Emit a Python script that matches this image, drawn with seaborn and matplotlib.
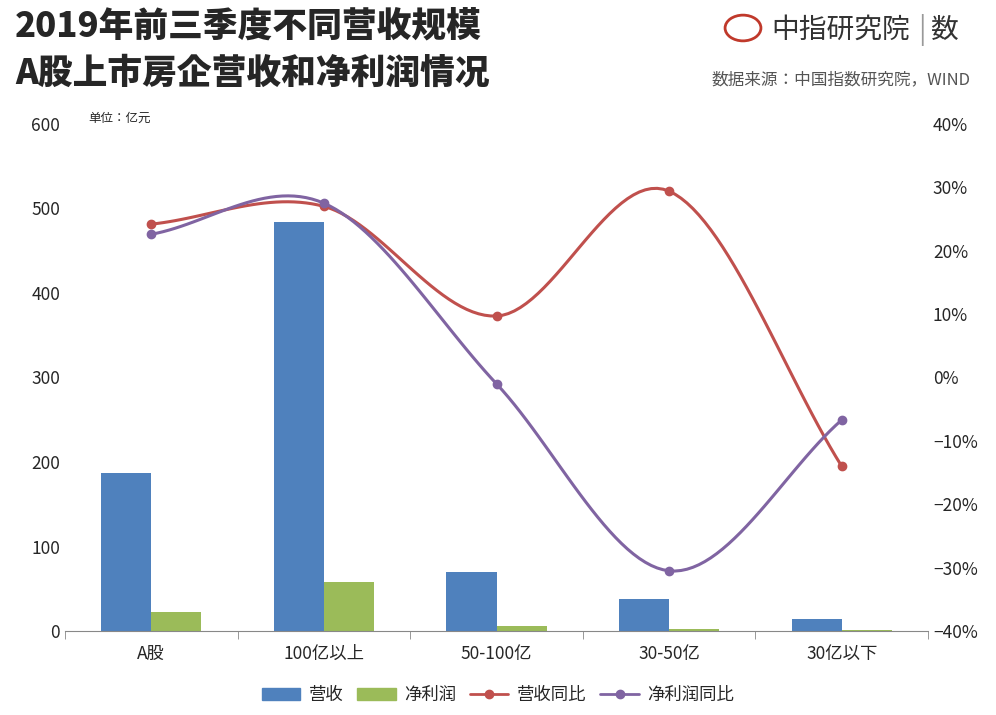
import numpy as np
import pandas as pd
import matplotlib
matplotlib.use("Agg")
import matplotlib.pyplot as plt
from matplotlib import font_manager as fm
import seaborn as sns

cjk = [f for f in fm.fontManager.ttflist if "CJK" in f.name]
names = sorted(set(f.name for f in cjk))
pick = next((n for n in names if "SC" in n), names[0] if names else "DejaVu Sans")
sns.set_style("white")
plt.rcParams["font.family"] = "sans-serif"
plt.rcParams["font.sans-serif"] = [pick, "DejaVu Sans"]
plt.rcParams["axes.unicode_minus"] = False

categories = ["A股", "100亿以上", "50-100亿", "30-50亿", "30亿以下"]
revenue = [187, 484, 70, 38, 14]
profit = [22, 58, 6, 2, 1.5]
rev_yoy = [24.2, 27.0, 9.7, 29.4, -14.0]
profit_yoy = [22.6, 27.5, -1.0, -30.5, -6.7]

df = pd.DataFrame({"cat": categories * 2,
                   "val": revenue + profit,
                   "series": ["营收"] * 5 + ["净利润"] * 5})

fig = plt.figure(figsize=(9.96, 7.15), dpi=100)
ax = fig.add_axes([65/996, 1-631/715, (928-65)/996, (631-124)/715])
sns.barplot(data=df, x="cat", y="val", hue="series", palette=["#4f81bd", "#9bbb59"],
            width=0.58, ax=ax, legend=False, saturation=1, linewidth=0)
ax.set_ylim(0, 600)
ax.set_xlim(-0.5, 4.5)
ax.set_yticks(range(0, 601, 100))
ax.set_xlabel(""); ax.set_ylabel("")
for s in ["top", "right", "left"]:
    ax.spines[s].set_visible(False)
ax.spines["bottom"].set_color("#888888")
ax.set_xticks([-0.5, 0.5, 1.5, 2.5, 3.5, 4.5], minor=True)
ax.tick_params(axis="x", which="major", length=0, labelsize=12.5, pad=10)
ax.tick_params(axis="x", which="minor", length=6, color="#888888", bottom=True)
ax.tick_params(axis="y", length=0, labelsize=12.5)

ax2 = ax.twinx()
ax2.set_ylim(-40, 40)
ax2.set_yticks(range(-40, 41, 10))
ax2.set_yticklabels([f"{v}%".replace("-", "−") for v in range(-40, 41, 10)])
ax2.tick_params(axis="y", length=0, labelsize=12.5)
for s in ax2.spines.values():
    s.set_visible(False)

def smooth(x, y, n=30):
    x = np.asarray(x, float); y = np.asarray(y, float)
    px = np.concatenate([[2*x[0]-x[1]], x, [2*x[-1]-x[-2]]])
    py = np.concatenate([[2*y[0]-y[1]], y, [2*y[-1]-y[-2]]])
    xs, ys = [], []
    t = np.linspace(0, 1, n)
    for i in range(1, len(px)-2):
        f = lambda a0, a1, a2, a3: 0.5*((2*a1) + (-a0+a2)*t + (2*a0-5*a1+4*a2-a3)*t**2 + (-a0+3*a1-3*a2+a3)*t**3)
        xs.append(f(*px[i-1:i+3])); ys.append(f(*py[i-1:i+3]))
    return np.concatenate(xs), np.concatenate(ys)

xpos = np.arange(len(categories))
for vals, col in [(rev_yoy, "#c0504d"), (profit_yoy, "#8064a2")]:
    sx, sy = smooth(xpos, vals)
    ax2.plot(sx, sy, color=col, lw=2.2)
    ax2.plot(xpos, vals, "o", color=col, ms=6)

from matplotlib.patches import Patch
from matplotlib.lines import Line2D
handles = [Patch(color="#4f81bd", label="营收"), Patch(color="#9bbb59", label="净利润"),
           Line2D([], [], color="#c0504d", marker="o", lw=2, label="营收同比"),
           Line2D([], [], color="#8064a2", marker="o", lw=2, label="净利润同比")]
fig.legend(handles=handles, loc="center", bbox_to_anchor=(0.5, 1-695/715), ncol=4,
           frameon=False, fontsize=12.5, handlelength=2.2, columnspacing=0.8, handletextpad=0.5)

fig.text(15/996, 1-27/715, "2019年前三季度不同营收规模", fontsize=25, fontweight="heavy", va="center")
fig.text(15/996, 1-73/715, "A股上市房企营收和净利润情况", fontsize=25, fontweight="heavy", va="center")
fig.text(88/996, 1-118/715, "单位：亿元", fontsize=9, va="center")
fig.text(771/996, 1-30/715, "中指研究院", fontsize=20, color="#333333", va="center")
fig.text(918/996, 1-30/715, "|", fontsize=20, color="#999999", va="center")
fig.text(930/996, 1-30/715, "数", fontsize=20, color="#333333", va="center")
fig.add_artist(plt.Circle((743/996, 1-28/715), 0.018, transform=fig.transFigure,
                          color="#c0392b", fill=False, lw=2))
fig.text(970/996, 1-80/715, "数据来源：中国指数研究院，WIND", fontsize=12, color="#555555",
         ha="right", va="center")
fig.savefig("out.png", dpi=100)
